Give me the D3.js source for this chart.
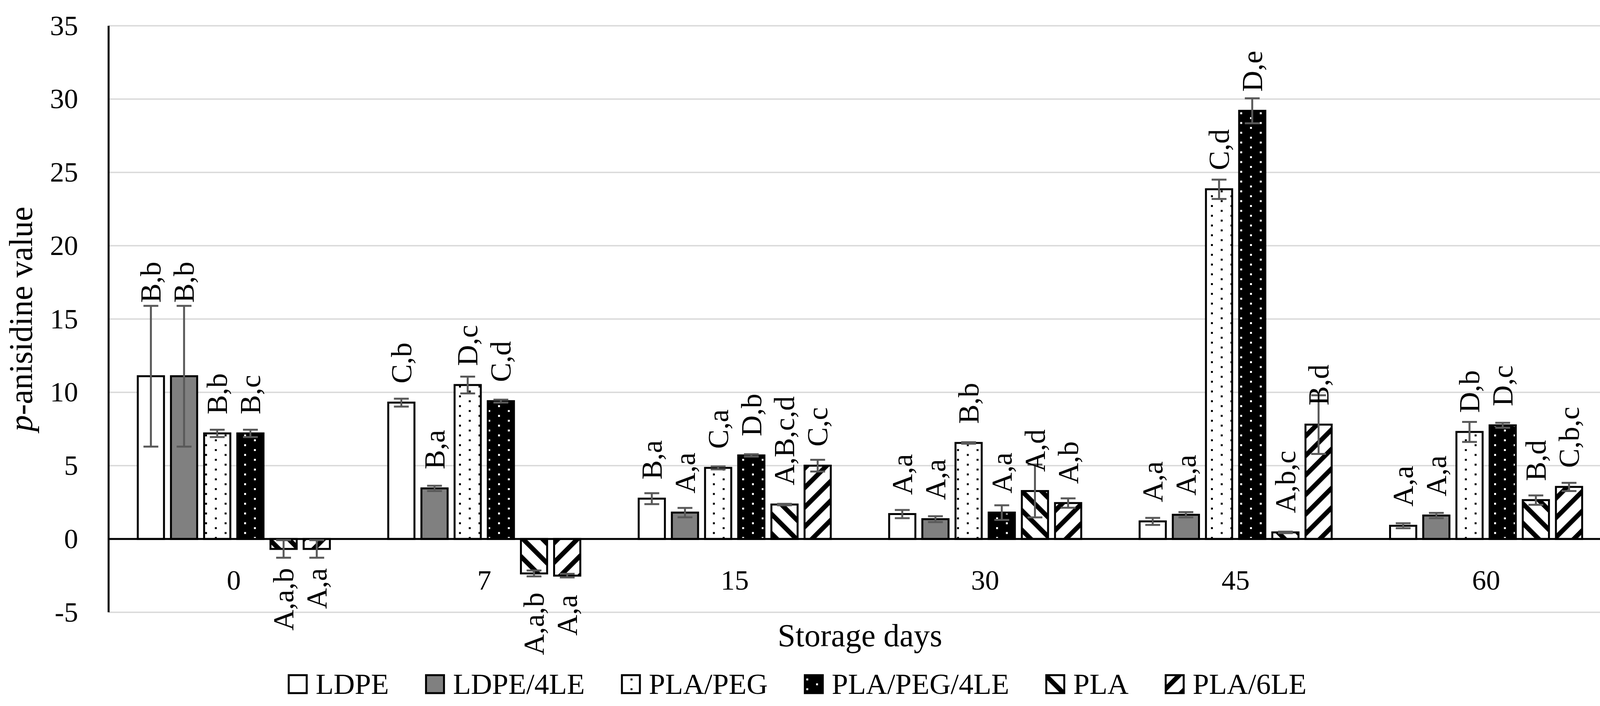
<!DOCTYPE html>
<html lang="en">
<head>
  <meta charset="UTF-8">
  <title>p-anisidine value</title>
  <script src="https://d3js.org/d3.v7.min.js"></script>
  <style>
    body { margin: 0; background: #fff; }
    text { font-family: "Liberation Serif", "DejaVu Serif", serif; fill: #000; }
  </style>
</head>
<body>
  <div id="chart"></div>

  <script>
    const days = ["0", "7", "15", "30", "45", "60"];
    const series = ["LDPE", "LDPE/4LE", "PLA/PEG", "PLA/PEG/4LE", "PLA", "PLA/6LE"];
    const yTicks = [-5, 0, 5, 10, 15, 20, 25, 30, 35];

    // mean values per series, one per storage day
    const ldpe      = [11.1, 9.3, 2.75, 1.7, 1.2, 0.9];
    const ldpe4le   = [11.1, 3.45, 1.8, 1.35, 1.65, 1.6];
    const plaPeg    = [7.2, 10.5, 4.85, 6.55, 23.85, 7.3];
    const plaPeg4le = [7.2, 9.4, 5.7, 1.8, 29.2, 7.75];
    const pla       = [-0.68, -2.35, 2.35, 3.27, 0.45, 2.65];
    const pla6le    = [-0.68, -2.5, 5.0, 2.45, 7.8, 3.55];

    // standard deviations
    const ldpeErr      = [4.8, 0.27, 0.37, 0.28, 0.24, 0.17];
    const ldpe4leErr   = [4.8, 0.18, 0.32, 0.2, 0.18, 0.18];
    const plaPegErr    = [0.25, 0.57, 0.1, 0.05, 0.66, 0.68];
    const plaPeg4leErr = [0.25, 0.1, 0.08, 0.5, 0.85, 0.17];
    const plaErr       = [0.6, 0.2, 0.05, 1.8, 0.05, 0.32];
    const pla6leErr    = [0.6, 0.12, 0.4, 0.32, 2.0, 0.28];

    // significance letters
    const ldpeLbl      = ["B,b", "C,b", "B,a", "A,a", "A,a", "A,a"];
    const ldpe4leLbl   = ["B,b", "B,a", "A,a", "A,a", "A,a", "A,a"];
    const plaPegLbl    = ["B,b", "D,c", "C,a", "B,b", "C,d", "D,b"];
    const plaPeg4leLbl = ["B,c", "C,d", "D,b", "A,a", "D,e", "D,c"];
    const plaLbl       = ["A,a,b", "A,a,b", "A,B,c,d", "A,d", "A,b,c", "B,d"];
    const pla6leLbl    = ["A,a", "A,a", "C,c", "A,b", "B,d", "C,b,c"];

    const values = [ldpe, ldpe4le, plaPeg, plaPeg4le, pla, pla6le];
    const errors = [ldpeErr, ldpe4leErr, plaPegErr, plaPeg4leErr, plaErr, pla6leErr];
    const labels = [ldpeLbl, ldpe4leLbl, plaPegLbl, plaPeg4leLbl, plaLbl, pla6leLbl];
    const fills = ["#fff", "#808080", "url(#dotsW)", "url(#dotsB)", "url(#diagDown)", "url(#diagUp)"];

    const W = 4164, H = 1808;
    const margin = { top: 66, right: 39, bottom: 240, left: 278 };

    const svg = d3.select("#chart").append("svg")
      .attr("width", W)
      .attr("height", H);

    // pattern fills
    const defs = svg.append("defs");
    function dots(id, bg, fg) {
      const p = defs.append("pattern").attr("id", id)
        .attr("patternUnits", "userSpaceOnUse").attr("width", 50).attr("height", 25);
      p.append("rect").attr("width", 50).attr("height", 25).attr("fill", bg);
      p.append("rect").attr("x", 0).attr("y", 0).attr("width", 5).attr("height", 5).attr("fill", fg);
      p.append("rect").attr("x", 25).attr("y", 12.5).attr("width", 5).attr("height", 5).attr("fill", fg);
    }
    function stripes(id, angle) {
      const p = defs.append("pattern").attr("id", id)
        .attr("patternUnits", "userSpaceOnUse").attr("width", 35.36).attr("height", 35.36)
        .attr("patternTransform", `rotate(${angle})`);
      p.append("rect").attr("width", 35.36).attr("height", 35.36).attr("fill", "#fff");
      p.append("rect").attr("x", 0).attr("width", 12).attr("height", 35.36).attr("fill", "#000");
    }
    dots("dotsW", "#fff", "#000");
    dots("dotsB", "#000", "#fff");
    stripes("diagDown", -45);
    stripes("diagUp", 45);

    const y = d3.scaleLinear().domain([-5, 35]).range([H - 240, margin.top]);
    const x0 = d3.scaleBand().domain(days).range([margin.left, W - margin.right]);
    const x1 = d3.scaleBand().domain(series).range([0, x0.bandwidth()])
      .paddingInner(0.21).paddingOuter(0.88);

    // gridlines
    svg.append("g").selectAll("line").data(yTicks).join("line")
      .attr("x1", margin.left).attr("x2", W - margin.right)
      .attr("y1", d => y(d)).attr("y2", d => y(d))
      .attr("stroke", "#d9d9d9").attr("stroke-width", 3.5);

    const data = [];
    series.forEach((s, si) => {
      days.forEach((d, di) => {
        data.push({ s, d, si, v: values[si][di], e: errors[si][di], lbl: labels[si][di] });
      });
    });
    const cx = d => x0(d.d) + x1(d.s) + x1.bandwidth() / 2;

    // bars
    svg.append("g").selectAll("rect").data(data).join("rect")
      .attr("x", d => x0(d.d) + x1(d.s))
      .attr("width", x1.bandwidth())
      .attr("y", d => y(Math.max(0, d.v)))
      .attr("height", d => Math.abs(y(d.v) - y(0)))
      .attr("fill", d => fills[d.si])
      .attr("stroke", "#000")
      .attr("stroke-width", 5);

    // zero line
    svg.append("line")
      .attr("x1", margin.left).attr("x2", W - margin.right)
      .attr("y1", y(0)).attr("y2", y(0))
      .attr("stroke", "#000").attr("stroke-width", 5);

    // error bars
    const eb = svg.append("g").attr("stroke", "#595959").attr("stroke-width", 5);
    eb.selectAll(".v").data(data).join("line")
      .attr("x1", cx).attr("x2", cx)
      .attr("y1", d => y(d.v + d.e)).attr("y2", d => y(d.v - d.e));
    eb.selectAll(".t").data(data).join("line")
      .attr("x1", d => cx(d) - 19).attr("x2", d => cx(d) + 19)
      .attr("y1", d => y(d.v + d.e)).attr("y2", d => y(d.v + d.e));
    eb.selectAll(".b").data(data).join("line")
      .attr("x1", d => cx(d) - 19).attr("x2", d => cx(d) + 19)
      .attr("y1", d => y(d.v - d.e)).attr("y2", d => y(d.v - d.e));

    // y axis line
    svg.append("line")
      .attr("x1", margin.left).attr("x2", margin.left)
      .attr("y1", y(35)).attr("y2", y(-5))
      .attr("stroke", "#000").attr("stroke-width", 5);

    // y tick labels
    const yAxis = svg.append("g")
      .attr("transform", `translate(${margin.left},0)`)
      .call(d3.axisLeft(y).tickValues(yTicks).tickSize(0).tickPadding(78).tickFormat(d => String(d)));
    yAxis.select(".domain").remove();
    yAxis.selectAll("text").attr("font-size", 72).attr("font-family", "Liberation Serif");

    // category labels
    const xAxis = svg.append("g")
      .attr("transform", `translate(0,${y(0)})`)
      .call(d3.axisBottom(x0).tickSize(0));
    xAxis.select(".domain").remove();
    xAxis.selectAll("text")
      .attr("y", 130).attr("dy", 0)
      .attr("font-size", 72).attr("font-family", "Liberation Serif");

    // data labels (rotated)
    const gap = 49;
    svg.append("g").selectAll("text").data(data).join("text")
      .attr("transform", d => {
        let ty;
        if (d.v >= 0) {
          ty = y(d.v) - gap;
          if (y(d.v) - y(d.v + d.e) > 120) ty = y(d.v + d.e) - 8;
        } else {
          ty = y(d.v) + gap;
        }
        return `translate(${cx(d)},${ty}) rotate(-90)`;
      })
      .attr("dy", "0.34em")
      .attr("text-anchor", d => d.v >= 0 ? "start" : "end")
      .attr("font-size", 74)
      .text(d => d.lbl);

    // axis titles
    svg.append("text")
      .attr("transform", `translate(82,${(y(35) + y(-5)) / 2}) rotate(-90)`)
      .attr("text-anchor", "middle")
      .attr("font-size", 84)
      .call(t => {
        t.append("tspan").attr("font-style", "italic").text("p");
        t.append("tspan").text("-anisidine value");
      });

    svg.append("text")
      .attr("x", (margin.left + W - margin.right) / 2)
      .attr("y", 1655)
      .attr("text-anchor", "middle")
      .attr("font-size", 82)
      .text("Storage days");

    // legend
    const legend = svg.append("g");
    const box = 51, textGap = 18, itemGap = 95;
    let lx = 0;
    series.forEach((s, i) => {
      const g = legend.append("g");
      g.append("rect")
        .attr("x", lx).attr("y", 1729).attr("width", box - 5).attr("height", box - 5)
        .attr("fill", fills[i]).attr("stroke", "#000").attr("stroke-width", 5);
      const t = g.append("text")
        .attr("x", lx + box + textGap).attr("y", 1777)
        .attr("font-size", 75)
        .text(s);
      lx += box + textGap + t.node().getComputedTextLength() + itemGap;
    });
    lx -= itemGap;
    legend.attr("transform", `translate(${2042 - lx / 2},0)`);
  </script>
</body>
</html>
